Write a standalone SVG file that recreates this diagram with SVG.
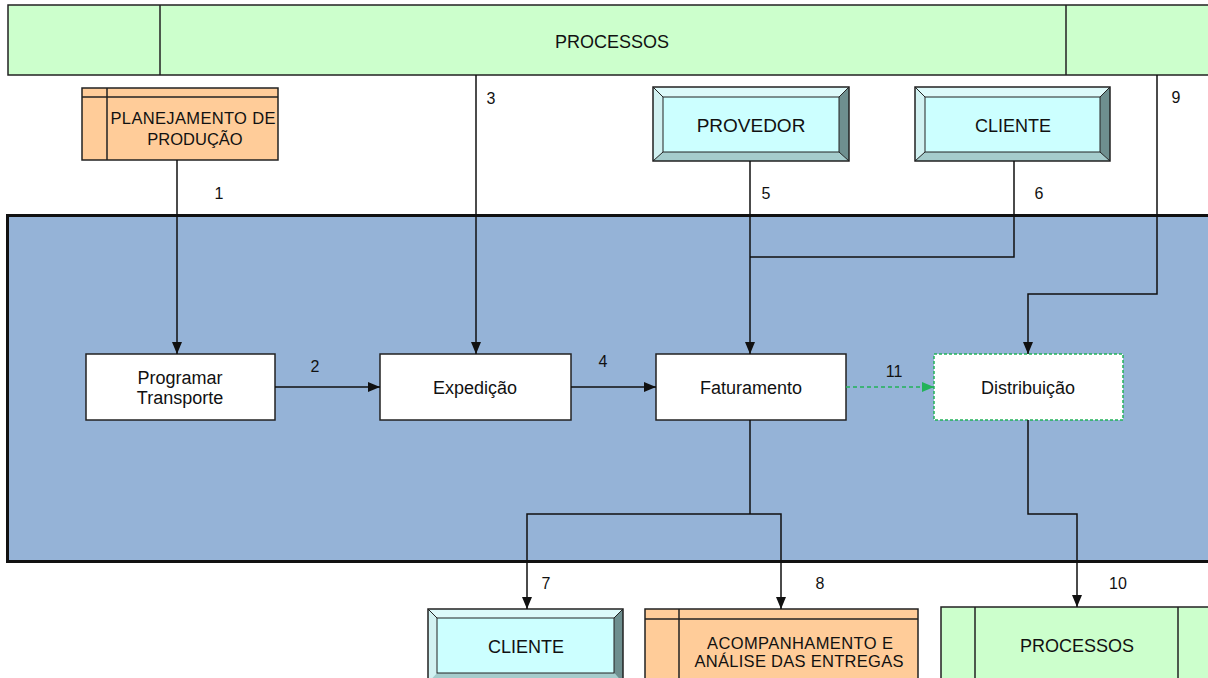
<svg xmlns="http://www.w3.org/2000/svg" width="1208" height="678" viewBox="0 0 1208 678">
  <style>
    text { font-family: "Liberation Sans", Arial, sans-serif; fill: #111; }
    .box { font-size: 18px; text-anchor: middle; }
    .lbl { font-size: 16px; text-anchor: middle; }
    .small { font-size: 16.5px; text-anchor: middle; }
    .proc { fill: #CCFFCC; stroke: #222; stroke-width: 1.5; }
    .task { fill: #FFFFFF; stroke: #222; stroke-width: 1.5; }
    .store { fill: #FFCC99; stroke: #222; stroke-width: 1.5; }
    .bev-top { fill: #DDFAFA; }
    .bev-left { fill: #D2F2F2; }
    .bev-right { fill: #6E8F8F; }
    .bev-bottom { fill: #A5CCCC; }
    .line { fill: none; stroke: #111; stroke-width: 1.5; }
    .dash { fill: none; stroke: #22B35A; stroke-width: 1.5; stroke-dasharray: 4 3; }
  </style>
  <defs>
    <marker id="arr" viewBox="0 0 12 10" refX="12" refY="5" markerWidth="12" markerHeight="10" markerUnits="userSpaceOnUse" orient="auto">
      <path d="M0,0 L12,5 L0,10 z" fill="#111"/>
    </marker>
    <marker id="arrGreen" viewBox="0 0 12 10" refX="12" refY="5" markerWidth="12" markerHeight="10" markerUnits="userSpaceOnUse" orient="auto">
      <path d="M0,0 L12,5 L0,10 z" fill="#22B35A"/>
    </marker>
  </defs>

  <!-- page background -->
  <rect x="0" y="0" width="1208" height="678" fill="#FFFFFF"/>

  <!-- swimlane container -->
  <g id="lane">
    <rect x="7.5" y="215.5" width="1210" height="346" fill="#95B3D7" stroke="#111" stroke-width="3"/>
  </g>

  <!-- top process band -->
  <g id="processos-top">
    <rect class="proc" x="8" y="5" width="1210" height="70"/>
    <line x1="160" y1="5" x2="160" y2="75" stroke="#222" stroke-width="1.5"/>
    <line x1="1066" y1="5" x2="1066" y2="75" stroke="#222" stroke-width="1.5"/>
    <text class="box" x="612" y="48">PROCESSOS</text>
  </g>

  <!-- data store: planejamento -->
  <g id="planejamento">
    <rect class="store" x="82" y="88" width="196" height="72"/>
    <line x1="107" y1="88" x2="107" y2="160" stroke="#222" stroke-width="1.5"/>
    <line x1="82" y1="97" x2="278" y2="97" stroke="#222" stroke-width="1.5"/>
    <text class="small" x="193" y="124" textLength="165" lengthAdjust="spacing">PLANEJAMENTO DE</text>
    <text class="small" x="195" y="145">PRODUÇÃO</text>
  </g>

  <!-- external entity: provedor -->
  <g id="provedor">
    <rect x="653" y="87" width="196" height="74" fill="#CCFFFF"/>
    <polygon class="bev-top" points="653,87 849,87 839,97 663,97"/>
    <polygon class="bev-left" points="653,87 663,97 663,152 653,161"/>
    <polygon class="bev-right" points="849,87 849,161 839,152 839,97"/>
    <polygon class="bev-bottom" points="653,161 663,152 839,152 849,161"/>
    <rect x="663" y="97" width="176" height="55" fill="#CCFFFF" stroke="#222" stroke-width="1"/>
    <line x1="653" y1="87" x2="663" y2="97" stroke="#222" stroke-width="1"/>
    <line x1="849" y1="87" x2="839" y2="97" stroke="#222" stroke-width="1"/>
    <line x1="653" y1="161" x2="663" y2="152" stroke="#222" stroke-width="1"/>
    <line x1="849" y1="161" x2="839" y2="152" stroke="#222" stroke-width="1"/>
    <rect x="653" y="87" width="196" height="74" fill="none" stroke="#222" stroke-width="1.5"/>
    <text class="box" x="751" y="132" style="font-size:19px">PROVEDOR</text>
  </g>

  <!-- external entity: cliente (top) -->
  <g id="cliente-top">
    <rect x="915" y="87" width="195" height="74" fill="#CCFFFF"/>
    <polygon class="bev-top" points="915,87 1110,87 1100,97 925,97"/>
    <polygon class="bev-left" points="915,87 925,97 925,152 915,161"/>
    <polygon class="bev-right" points="1110,87 1110,161 1100,152 1100,97"/>
    <polygon class="bev-bottom" points="915,161 925,152 1100,152 1110,161"/>
    <rect x="925" y="97" width="175" height="55" fill="#CCFFFF" stroke="#222" stroke-width="1"/>
    <line x1="915" y1="87" x2="925" y2="97" stroke="#222" stroke-width="1"/>
    <line x1="1110" y1="87" x2="1100" y2="97" stroke="#222" stroke-width="1"/>
    <line x1="915" y1="161" x2="925" y2="152" stroke="#222" stroke-width="1"/>
    <line x1="1110" y1="161" x2="1100" y2="152" stroke="#222" stroke-width="1"/>
    <rect x="915" y="87" width="195" height="74" fill="none" stroke="#222" stroke-width="1.5"/>
    <text class="box" x="1013" y="132">CLIENTE</text>
  </g>

  <!-- tasks -->
  <g id="programar">
    <rect class="task" x="86" y="354" width="189" height="66"/>
    <text class="box" x="180" y="384">Programar</text>
    <text class="box" x="180" y="404">Transporte</text>
  </g>
  <g id="expedicao">
    <rect class="task" x="380" y="354" width="191" height="66"/>
    <text class="box" x="475" y="394">Expedição</text>
  </g>
  <g id="faturamento">
    <rect class="task" x="656" y="354" width="190" height="66"/>
    <text class="box" x="751" y="394">Faturamento</text>
  </g>
  <g id="distribuicao">
    <rect x="934" y="354" width="189" height="66" fill="#FFFFFF" stroke="#22B35A" stroke-width="1.5" stroke-dasharray="3 2"/>
    <text class="box" x="1028" y="394">Distribuição</text>
  </g>

  <!-- external entity: cliente (bottom) -->
  <g id="cliente-bottom">
    <rect x="428" y="609" width="195" height="74" fill="#CCFFFF"/>
    <polygon class="bev-top" points="428,609 623,609 614,618 437,618"/>
    <polygon class="bev-left" points="428,609 437,618 437,673 428,683"/>
    <polygon class="bev-right" points="623,609 623,683 614,673 614,618"/>
    <polygon class="bev-bottom" points="428,683 437,673 614,673 623,683"/>
    <rect x="437" y="618" width="177" height="55" fill="#CCFFFF" stroke="#222" stroke-width="1"/>
    <line x1="428" y1="609" x2="437" y2="618" stroke="#222" stroke-width="1"/>
    <line x1="623" y1="609" x2="614" y2="618" stroke="#222" stroke-width="1"/>
    <rect x="428" y="609" width="195" height="74" fill="none" stroke="#222" stroke-width="1.5"/>
    <text class="box" x="526" y="653">CLIENTE</text>
  </g>

  <!-- data store: acompanhamento -->
  <g id="acompanhamento">
    <rect class="store" x="645" y="609" width="273" height="80"/>
    <line x1="679" y1="609" x2="679" y2="689" stroke="#222" stroke-width="1.5"/>
    <line x1="645" y1="619" x2="918" y2="619" stroke="#222" stroke-width="1.5"/>
    <text class="small" x="800" y="649" textLength="186" lengthAdjust="spacing">ACOMPANHAMENTO E</text>
    <text class="small" x="799" y="667" textLength="209" lengthAdjust="spacing">ANÁLISE DAS ENTREGAS</text>
  </g>

  <!-- bottom process band -->
  <g id="processos-bottom">
    <rect class="proc" x="941" y="607" width="280" height="80"/>
    <line x1="975" y1="607" x2="975" y2="687" stroke="#222" stroke-width="1.5"/>
    <line x1="1178" y1="607" x2="1178" y2="687" stroke="#222" stroke-width="1.5"/>
    <text class="box" x="1077" y="652">PROCESSOS</text>
  </g>

  <!-- connectors -->
  <g id="connectors">
    <path class="line" d="M177,160 V354" marker-end="url(#arr)"/>
    <path class="line" d="M476,75 V354" marker-end="url(#arr)"/>
    <path class="line" d="M750,161 V354" marker-end="url(#arr)"/>
    <path class="line" d="M1014,161 V257 H750"/>
    <path class="line" d="M1157,75 V294 H1028 V354" marker-end="url(#arr)"/>
    <path class="line" d="M275,387 H380" marker-end="url(#arr)"/>
    <path class="line" d="M571,387 H656" marker-end="url(#arr)"/>
    <path class="dash" d="M846,387 H934" marker-end="url(#arrGreen)"/>
    <path class="line" d="M750,420 V514"/>
    <path class="line" d="M750,514 H527 V609" marker-end="url(#arr)"/>
    <path class="line" d="M750,514 H781 V609" marker-end="url(#arr)"/>
    <path class="line" d="M1028,420 V514 H1077 V607" marker-end="url(#arr)"/>

    <text class="lbl" x="219" y="199">1</text>
    <text class="lbl" x="315" y="372">2</text>
    <text class="lbl" x="491" y="104">3</text>
    <text class="lbl" x="603" y="367">4</text>
    <text class="lbl" x="766" y="199">5</text>
    <text class="lbl" x="1039" y="199">6</text>
    <text class="lbl" x="546" y="589">7</text>
    <text class="lbl" x="820" y="589">8</text>
    <text class="lbl" x="1176" y="103">9</text>
    <text class="lbl" x="1118" y="589">10</text>
    <text class="lbl" x="894" y="377">11</text>
  </g>
</svg>
